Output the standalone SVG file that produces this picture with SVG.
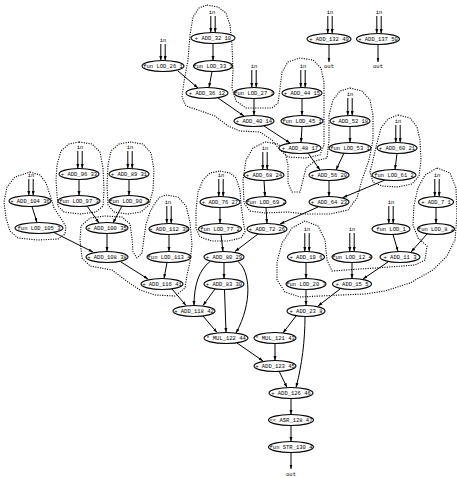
<svg xmlns="http://www.w3.org/2000/svg" width="457" height="478" viewBox="0 0 457 478">
<defs>
<marker id="ah" viewBox="0 0 6 4" refX="6" refY="2" markerWidth="4.5" markerHeight="3.4" orient="auto" markerUnits="userSpaceOnUse"><path d="M0,0L6,2L0,4z" fill="#000"/></marker>
<style>
.n ellipse{fill:#fff;stroke:#000;stroke-width:1.1}
text{font-family:"Liberation Mono","DejaVu Sans Mono",monospace;font-size:5.5px;text-anchor:middle;fill:#000}
.e line,.e path{stroke:#000;stroke-width:1;fill:none;marker-end:url(#ah)}
.c path{fill:none;stroke:#000;stroke-width:1.1;stroke-dasharray:1.1 1.3;stroke-linejoin:round}
</style>
</defs>
<rect width="457" height="478" fill="#fff"/>
<g id="clusters" class="c">
<path d="M207,5 L218,7 L226,13 L230,25 L232,45 L233,70 L232,88 L236,101 L246,108 L272,108 L278,103 L280,88 L282,72 L288,62 L300,58 L313,60 L321,68 L324,82 L324,145 L320,155 L305,158 L288,157 L280,150 L272,140 L260,132 L240,131 L228,126 L215,116 L198,110 L186,106 L182,97 L184,82 L188,60 L190,35 L193,17 L199,8 Z"/>
<path d="M350,88 L362,91 L370,100 L373,115 L373,140 L369,160 L362,180 L357,198 L348,210 L330,214 L305,214 L288,212 L265,213 L250,211 L244,203 L243,180 L246,160 L253,148 L265,142 L278,144 L285,152 L288,165 L288,183 L292,192 L300,192 L303,180 L306,168 L315,161 L327,158 L329,140 L329,115 L333,100 L340,91 Z"/>
<path d="M398,115 L410,118 L417,127 L420,140 L421,160 L419,176 L412,184 L398,187 L382,186 L373,182 L370,172 L373,160 L377,143 L381,128 L388,119 Z"/>
<path d="M220,171 L230,173 L236,178 L240,190 L241,205 L243,220 L245,232 L241,238 L228,241 L212,241 L200,237 L196,228 L196,210 L198,192 L203,180 L210,173 Z"/>
<path d="M79,142 L92,144 L100,152 L103,168 L104,190 L103,206 L96,212 L80,214 L64,212 L58,206 L57,195 L56,180 L57,165 L61,151 L69,144 Z"/>
<path d="M130,142 L143,144 L151,153 L154,170 L153,190 L149,205 L141,212 L128,214 L114,212 L108,205 L107,185 L108,165 L111,151 L119,144 Z"/>
<path d="M166,195 L178,197 L186,206 L190,222 L192,245 L190,262 L187,275 L185,288 L175,296 L155,295 L140,290 L128,282 L112,270 L90,266 L82,258 L80,240 L81,226 L90,218 L105,216 L122,217 L130,224 L132,238 L133,252 L137,258 L142,253 L144,238 L146,224 L150,212 L155,203 L160,197 Z"/>
<path d="M30,172 L40,175 L46,183 L50,195 L54,208 L62,220 L66,227 L65,234 L58,239 L38,240 L18,238 L10,231 L6,218 L4,202 L7,187 L15,177 Z"/>
<path d="M437,168 L450,173 L456,188 L457,215 L455,240 L447,256 L433,270 L410,283 L385,291 L365,294 L340,295 L320,296 L300,297 L285,292 L277,280 L277,262 L282,243 L292,228 L305,221 L318,226 L325,240 L327,260 L332,271 L360,269 L390,267 L415,265 L425,260 L427,246 L418,238 L413,225 L414,205 L418,188 L425,175 Z"/>
</g>
<g id="edges" class="e">
<line x1="210.8" y1="16" x2="210.8" y2="32.5"/><line x1="215.2" y1="16" x2="215.2" y2="32.5"/>
<line x1="160.8" y1="44" x2="160.8" y2="60.5"/><line x1="165.2" y1="44" x2="165.2" y2="60.5"/>
<line x1="251.8" y1="70" x2="251.8" y2="87.5"/><line x1="256.2" y1="70" x2="256.2" y2="87.5"/>
<line x1="300.8" y1="70" x2="300.8" y2="87.5"/><line x1="305.2" y1="70" x2="305.2" y2="87.5"/>
<line x1="347.8" y1="98" x2="347.8" y2="115.5"/><line x1="352.2" y1="98" x2="352.2" y2="115.5"/>
<line x1="395.8" y1="125" x2="395.8" y2="142.5"/><line x1="400.2" y1="125" x2="400.2" y2="142.5"/>
<line x1="262.8" y1="152" x2="262.8" y2="169.5"/><line x1="267.2" y1="152" x2="267.2" y2="169.5"/>
<line x1="218.8" y1="179" x2="218.8" y2="196.5"/><line x1="223.2" y1="179" x2="223.2" y2="196.5"/>
<line x1="166.8" y1="206" x2="166.8" y2="223.5"/><line x1="171.2" y1="206" x2="171.2" y2="223.5"/>
<line x1="77.8" y1="151" x2="77.8" y2="168.5"/><line x1="82.2" y1="151" x2="82.2" y2="168.5"/>
<line x1="127.8" y1="151" x2="127.8" y2="168.5"/><line x1="132.2" y1="151" x2="132.2" y2="168.5"/>
<line x1="28.8" y1="179" x2="28.8" y2="195.5"/><line x1="33.2" y1="179" x2="33.2" y2="195.5"/>
<line x1="434.8" y1="179" x2="434.8" y2="196.5"/><line x1="439.2" y1="179" x2="439.2" y2="196.5"/>
<line x1="388.8" y1="206" x2="388.8" y2="223.5"/><line x1="393.2" y1="206" x2="393.2" y2="223.5"/>
<line x1="349.8" y1="233" x2="349.8" y2="251.5"/><line x1="354.2" y1="233" x2="354.2" y2="251.5"/>
<line x1="304.8" y1="233" x2="304.8" y2="251.5"/><line x1="309.2" y1="233" x2="309.2" y2="251.5"/>
<line x1="327.8" y1="16" x2="327.8" y2="33.5"/><line x1="332.2" y1="16" x2="332.2" y2="33.5"/>
<line x1="376.8" y1="16" x2="376.8" y2="33.5"/><line x1="381.2" y1="16" x2="381.2" y2="33.5"/>
<line x1="213" y1="43.5" x2="213" y2="60.5"/>
<line x1="178" y1="71" x2="198" y2="88"/>
<line x1="212" y1="71.5" x2="209" y2="87.5"/>
<line x1="218" y1="98" x2="244" y2="116"/>
<line x1="254" y1="98.5" x2="254" y2="115.5"/>
<line x1="302" y1="98.5" x2="302" y2="115.5"/>
<line x1="302" y1="126.5" x2="301" y2="142.5"/>
<line x1="264" y1="126" x2="290" y2="143"/>
<line x1="350" y1="126.5" x2="350" y2="142.5"/>
<line x1="308" y1="153" x2="320" y2="170"/>
<line x1="344" y1="153" x2="336" y2="170"/>
<line x1="329" y1="180.5" x2="329" y2="196.5"/>
<line x1="397" y1="153.5" x2="395" y2="169.5"/>
<line x1="385" y1="180" x2="343" y2="197.5"/>
<line x1="318" y1="207" x2="280" y2="224"/>
<line x1="264" y1="180.5" x2="265" y2="196.5"/>
<line x1="266" y1="207.5" x2="267" y2="223.5"/>
<line x1="220" y1="207.5" x2="220" y2="223.5"/>
<line x1="258" y1="234" x2="235" y2="251.5"/>
<line x1="221" y1="234.5" x2="223" y2="251.5"/>
<line x1="224" y1="262.5" x2="224" y2="278.5"/>
<path d="M210,261.5 C199,270 194,285 194,305.5"/>
<path d="M238,261.5 C250,271 253,302 236,333"/>
<line x1="215" y1="289" x2="203" y2="305.5"/>
<line x1="224.5" y1="289.5" x2="226" y2="332.5"/>
<line x1="203" y1="316" x2="217" y2="332.5"/>
<line x1="172" y1="289" x2="186" y2="305.5"/>
<line x1="169" y1="234.5" x2="169" y2="251.5"/>
<line x1="167" y1="262.5" x2="164" y2="278.5"/>
<line x1="121" y1="262" x2="148" y2="279"/>
<line x1="79" y1="179.5" x2="79" y2="195.5"/>
<line x1="129" y1="179.5" x2="129" y2="195.5"/>
<line x1="87" y1="206" x2="99" y2="223"/>
<line x1="122" y1="206" x2="113" y2="223"/>
<line x1="107" y1="233.5" x2="107" y2="251.5"/>
<line x1="32" y1="206.5" x2="37" y2="222.5"/>
<line x1="54" y1="232.5" x2="93" y2="252"/>
<line x1="436" y1="207.5" x2="436" y2="223.5"/>
<line x1="393" y1="234.5" x2="398" y2="251.5"/>
<line x1="427" y1="234" x2="411" y2="252"/>
<line x1="352" y1="262.5" x2="352" y2="278.5"/>
<line x1="388" y1="262" x2="363" y2="279"/>
<line x1="306" y1="262.5" x2="306" y2="278.5"/>
<line x1="306" y1="289.5" x2="306" y2="305.5"/>
<line x1="340" y1="289" x2="318" y2="306"/>
<line x1="296" y1="316" x2="283" y2="333"/>
<path d="M305,316.5 C305,340 302,365 296,387.5"/>
<line x1="275" y1="343.5" x2="275" y2="360.5"/>
<line x1="237" y1="343" x2="263" y2="361"/>
<line x1="279" y1="371" x2="287" y2="387.5"/>
<line x1="291" y1="398.5" x2="291" y2="414.5"/>
<line x1="291" y1="425.5" x2="291" y2="441.5"/>
<line x1="291" y1="452.5" x2="291" y2="469"/>
<line x1="329" y1="44.5" x2="329" y2="62"/>
<line x1="378" y1="44.5" x2="378" y2="62"/>
</g>
<g id="io">
<text x="212" y="14">in</text><text x="163" y="42">in</text><text x="254" y="68">in</text><text x="303" y="68">in</text>
<text x="350" y="96">in</text><text x="398" y="123">in</text><text x="265" y="150">in</text><text x="221" y="177">in</text>
<text x="168" y="204">in</text><text x="80" y="149">in</text><text x="130" y="149">in</text><text x="31" y="177">in</text>
<text x="437" y="177">in</text><text x="391" y="204">in</text><text x="352" y="231">in</text><text x="307" y="231">in</text>
<text x="330" y="14">in</text><text x="379" y="14">in</text>
<text x="291" y="476">out</text><text x="329" y="68">out</text><text x="378" y="68">out</text>
</g>
<g class="n">
<g id="ADD_32"><ellipse cx="213" cy="38" rx="22" ry="5.5"/><text x="213" y="39.9">+ ADD_32 10</text></g>
<g id="LOD_33"><ellipse cx="213" cy="66" rx="19.5" ry="5.5"/><text x="213" y="67.9">fun LOD_33 1</text></g>
<g id="LOD_26"><ellipse cx="163" cy="66" rx="21" ry="5.5"/><text x="163" y="67.9">fun LOD_26 1</text></g>
<g id="ADD_36"><ellipse cx="207" cy="93" rx="21" ry="5.5"/><text x="207" y="94.9">+ ADD_36 12</text></g>
<g id="LOD_27"><ellipse cx="254" cy="93" rx="20" ry="5.5"/><text x="254" y="94.9">fun LOD_27 1</text></g>
<g id="ADD_40"><ellipse cx="254" cy="121" rx="20" ry="5.5"/><text x="254" y="122.9">+ ADD_40 14</text></g>
<g id="ADD_44"><ellipse cx="302" cy="93" rx="20" ry="5.5"/><text x="302" y="94.9">+ ADD_44 15</text></g>
<g id="LOD_45"><ellipse cx="302" cy="121" rx="21" ry="5.5"/><text x="302" y="122.9">fun LOD_45 1</text></g>
<g id="ADD_48"><ellipse cx="300" cy="148" rx="21" ry="5.5"/><text x="300" y="149.9">+ ADD_48 17</text></g>
<g id="ADD_52"><ellipse cx="350" cy="121" rx="20" ry="5.5"/><text x="350" y="122.9">+ ADD_52 18</text></g>
<g id="LOD_53"><ellipse cx="350" cy="148" rx="21" ry="5.5"/><text x="350" y="149.9">fun LOD_53 1</text></g>
<g id="ADD_56"><ellipse cx="329" cy="175" rx="20" ry="5.5"/><text x="329" y="176.9">+ ADD_56 20</text></g>
<g id="ADD_64"><ellipse cx="329" cy="202" rx="20" ry="5.5"/><text x="329" y="203.9">+ ADD_64 23</text></g>
<g id="ADD_60"><ellipse cx="397" cy="148" rx="20" ry="5.5"/><text x="397" y="149.9">+ ADD_60 21</text></g>
<g id="LOD_61"><ellipse cx="394" cy="175" rx="22" ry="5.5"/><text x="394" y="176.9">fun LOD_61 2</text></g>
<g id="ADD_68"><ellipse cx="264" cy="175" rx="20" ry="5.5"/><text x="264" y="176.9">+ ADD_68 24</text></g>
<g id="LOD_69"><ellipse cx="266" cy="202" rx="20" ry="5.5"/><text x="266" y="203.9">fun LOD_69 2</text></g>
<g id="ADD_72"><ellipse cx="267" cy="229" rx="20" ry="5.5"/><text x="267" y="230.9">+ ADD_72 26</text></g>
<g id="ADD_76"><ellipse cx="220" cy="202" rx="20" ry="5.5"/><text x="220" y="203.9">+ ADD_76 27</text></g>
<g id="LOD_77"><ellipse cx="220" cy="229" rx="21.5" ry="5.5"/><text x="220" y="230.9">fun LOD_77 2</text></g>
<g id="ADD_80"><ellipse cx="224" cy="257" rx="20" ry="5.5"/><text x="224" y="258.9">+ ADD_80 29</text></g>
<g id="ADD_83"><ellipse cx="224" cy="284" rx="20" ry="5.5"/><text x="224" y="285.9">+ ADD_83 30</text></g>
<g id="ADD_118"><ellipse cx="194" cy="311" rx="21" ry="5.5"/><text x="194" y="312.9">+ ADD_118 42</text></g>
<g id="MUL_122"><ellipse cx="226" cy="338" rx="22" ry="5.5"/><text x="226" y="339.9">* MUL_122 44</text></g>
<g id="ADD_112"><ellipse cx="169" cy="229" rx="20" ry="5.5"/><text x="169" y="230.9">+ ADD_112 39</text></g>
<g id="LOD_113"><ellipse cx="169" cy="257" rx="22" ry="5.5"/><text x="169" y="258.9">fun LOD_113 4</text></g>
<g id="ADD_116"><ellipse cx="162" cy="284" rx="21" ry="5.5"/><text x="162" y="285.9">+ ADD_116 41</text></g>
<g id="ADD_96"><ellipse cx="79" cy="174" rx="20" ry="5.5"/><text x="79" y="175.9">+ ADD_96 33</text></g>
<g id="LOD_97"><ellipse cx="79" cy="201" rx="21" ry="5.5"/><text x="79" y="202.9">fun LOD_97 3</text></g>
<g id="ADD_89"><ellipse cx="129" cy="174" rx="20" ry="5.5"/><text x="129" y="175.9">+ ADD_89 31</text></g>
<g id="LOD_90"><ellipse cx="129" cy="201" rx="20" ry="5.5"/><text x="129" y="202.9">fun LOD_90 3</text></g>
<g id="ADD_100"><ellipse cx="107" cy="228" rx="21" ry="5.5"/><text x="107" y="229.9">+ ADD_100 35</text></g>
<g id="ADD_108"><ellipse cx="107" cy="257" rx="21" ry="5.5"/><text x="107" y="258.9">+ ADD_108 38</text></g>
<g id="ADD_104"><ellipse cx="30" cy="201" rx="21" ry="5.5"/><text x="30" y="202.9">+ ADD_104 36</text></g>
<g id="LOD_105"><ellipse cx="39" cy="228" rx="24" ry="5.5"/><text x="39" y="229.9">fun LOD_105 3</text></g>
<g id="ADD_7"><ellipse cx="436" cy="202" rx="17.5" ry="5.5"/><text x="436" y="203.9">+ ADD_7 1</text></g>
<g id="LOD_8"><ellipse cx="436" cy="229" rx="18.5" ry="5.5"/><text x="436" y="230.9">fun LOD_8 2</text></g>
<g id="LOD_1"><ellipse cx="391" cy="229" rx="19" ry="5.5"/><text x="391" y="230.9">fun LOD_1</text></g>
<g id="ADD_11"><ellipse cx="400" cy="257" rx="20" ry="5.5"/><text x="400" y="258.9">+ ADD_11 3</text></g>
<g id="LOD_12"><ellipse cx="352" cy="257" rx="20" ry="5.5"/><text x="352" y="258.9">fun LOD_12 4</text></g>
<g id="ADD_15"><ellipse cx="352" cy="284" rx="19.5" ry="5.5"/><text x="352" y="285.9">+ ADD_15 5</text></g>
<g id="ADD_19"><ellipse cx="306" cy="257" rx="18.5" ry="5.5"/><text x="306" y="258.9">+ ADD_19 6</text></g>
<g id="LOD_20"><ellipse cx="306" cy="284" rx="20" ry="5.5"/><text x="306" y="285.9">fun LOD_20 7</text></g>
<g id="ADD_23"><ellipse cx="306" cy="311" rx="19" ry="5.5"/><text x="306" y="312.9">+ ADD_23 8</text></g>
<g id="MUL_121"><ellipse cx="275" cy="338" rx="21" ry="5.5"/><text x="275" y="339.9">* MUL_121 43</text></g>
<g id="ADD_123"><ellipse cx="275" cy="366" rx="21" ry="5.5"/><text x="275" y="367.9">+ ADD_123 45</text></g>
<g id="ADD_126"><ellipse cx="291" cy="393" rx="22" ry="5.5"/><text x="291" y="394.9">+ ADD_126 46</text></g>
<g id="ASR_128"><ellipse cx="291" cy="420" rx="22.5" ry="5.5"/><text x="291" y="421.9">&lt;&lt; ASR_128 47</text></g>
<g id="STR_130"><ellipse cx="291" cy="447" rx="22.5" ry="5.5"/><text x="291" y="448.9">fun STR_130 4</text></g>
<g id="ADD_132"><ellipse cx="329" cy="39" rx="22" ry="5.5"/><text x="329" y="40.9">+ ADD_132 49</text></g>
<g id="ADD_137"><ellipse cx="378" cy="39" rx="21.5" ry="5.5"/><text x="378" y="40.9">+ ADD_137 50</text></g>
</g>
</svg>
